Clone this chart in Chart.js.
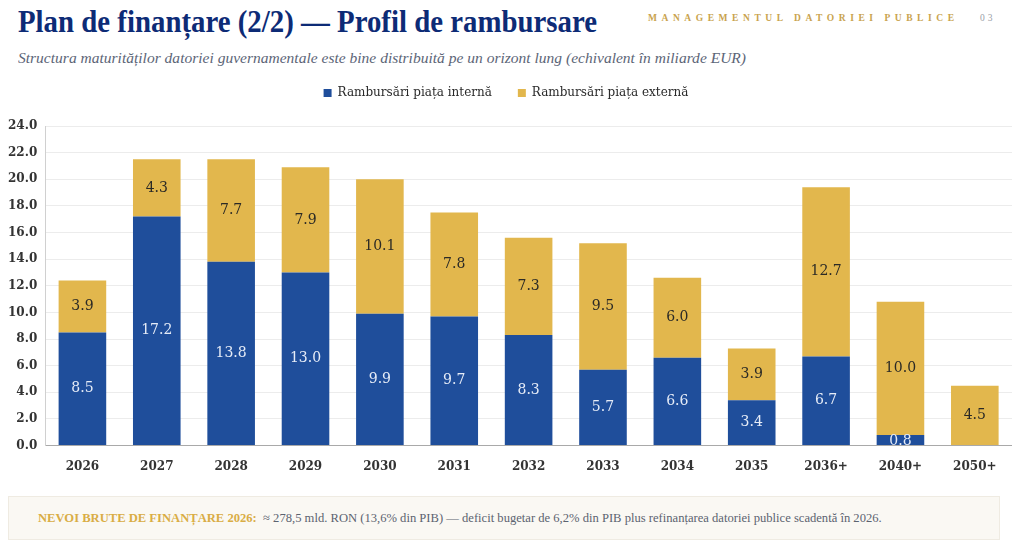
<!DOCTYPE html>
<html><head><meta charset="utf-8">
<script src="https://cdn.jsdelivr.net/npm/chart.js@4"></script>
<style>
html,body{margin:0;padding:0;background:#fff;width:1024px;height:541px;overflow:hidden;font-family:"Liberation Serif",serif;}
#title{position:absolute;left:18px;top:4px;font-size:31px;font-weight:bold;color:#0d2b76;white-space:nowrap;transform-origin:left top;}
#kicker{position:absolute;left:648px;top:13px;font-size:9.5px;font-weight:bold;letter-spacing:4.55px;color:#c9a34e;white-space:nowrap;}
#page{position:absolute;left:980px;top:13px;font-size:9.5px;letter-spacing:3px;color:#9aa0a8;}
#sub{position:absolute;left:18px;top:49px;font-size:15.5px;font-style:italic;color:#5c6577;white-space:nowrap;transform-origin:left top;}
#wrap{position:absolute;left:0;top:61px;width:1012px;height:419px;}
#foot{position:absolute;left:8px;top:496px;width:992px;height:44px;background:#faf8f3;border:1px solid #efebe2;box-sizing:border-box;}
#foot span{position:absolute;left:29px;top:14px;font-size:12.6px;color:#5c6370;white-space:nowrap;}
#foot b{color:#d9ad45;font-weight:bold;}
</style></head><body>
<div id="title">Plan de finanțare (2/2) — Profil de rambursare</div>
<div id="kicker">MANAGEMENTUL DATORIEI PUBLICE</div>
<div id="page">03</div>
<div id="sub">Structura maturităților datoriei guvernamentale este bine distribuită pe un orizont lung (echivalent în miliarde EUR)</div>
<div id="wrap"><canvas id="c"></canvas></div>
<div id="foot"><span><b>NEVOI BRUTE DE FINANȚARE 2026:</b>&nbsp; ≈ 278,5 mld. RON (13,6% din PIB) — deficit bugetar de 6,2% din PIB plus refinanțarea datoriei publice scadentă în 2026.</span></div>
<script>
const categories = ["2026","2027","2028","2029","2030","2031","2032","2033","2034","2035","2036+","2040+","2050+"];
const internal = [8.5,17.2,13.8,13.0,9.9,9.7,8.3,5.7,6.6,3.4,6.7,0.8,0];
const external = [3.9,4.3,7.7,7.9,10.1,7.8,7.3,9.5,6.0,3.9,12.7,10.0,4.5];
const seriesNames = ["Rambursări piața internă","Rambursări piața externă"];
const yTicks = {min:0,max:24,step:2};

function fit(id,w){const el=document.getElementById(id);const r=el.getBoundingClientRect().width;el.style.transform='scaleX('+(w/r)+')';}
fit('title',579); fit('sub',728);

const legendGap = {
  id:'legendGap',
  beforeInit(chart){
    const orig=chart.legend.fit;
    chart.legend.fit=function(){orig.bind(chart.legend)();this.height+=17;};
  }
};

const labelPlugin = {
  id:'barLabels',
  afterDatasetsDraw(chart){
    const ctx=chart.ctx;
    chart.data.datasets.forEach((ds,di)=>{
      const meta=chart.getDatasetMeta(di);
      meta.data.forEach((bar,i)=>{
        const v=ds.data[i]; if(!v) return;
        const y=(bar.y+bar.base)/2;
        ctx.save();
        ctx.font='14px "DejaVu Serif", serif';
        ctx.fillStyle = di===0 ? '#e6ecf7' : '#2b2a26';
        ctx.textAlign='center'; ctx.textBaseline='middle';
        ctx.fillText(v.toFixed(1), bar.x, v<1.5 ? bar.base-4 : y);
        ctx.restore();
      });
    });
  }
};

new Chart(document.getElementById('c'),{
  type:'bar',
  data:{labels:categories,datasets:[
    {label:seriesNames[0],data:internal,backgroundColor:'#1f4e9b',barPercentage:0.64,categoryPercentage:1},
    {label:seriesNames[1],data:external,backgroundColor:'#e2b74d',barPercentage:0.64,categoryPercentage:1}
  ]},
  options:{
    responsive:true,maintainAspectRatio:false,animation:false,
    layout:{padding:{left:0,right:0,top:0,bottom:0}},
    plugins:{
      legend:{position:'top',labels:{boxWidth:8,boxHeight:8,padding:26,color:'#2a2a2a',font:{family:'"DejaVu Serif", serif',size:12}}},
      tooltip:{enabled:false}
    },
    scales:{
      x:{stacked:true,grid:{display:false},border:{color:'#a9a9a9'},ticks:{color:'#333',font:{family:'"DejaVu Serif", serif',size:12,weight:'bold'},padding:6}},
      y:{stacked:true,min:yTicks.min,max:yTicks.max,border:{color:'#d0d0d0'},grid:{color:'#ececec',drawTicks:false},
         ticks:{stepSize:yTicks.step,padding:8,color:'#333',font:{family:'"DejaVu Serif", serif',size:12,weight:'bold'},callback:v=>v.toFixed(1)}}
    }
  },
  plugins:[labelPlugin,legendGap]
});
</script>
</body></html>
